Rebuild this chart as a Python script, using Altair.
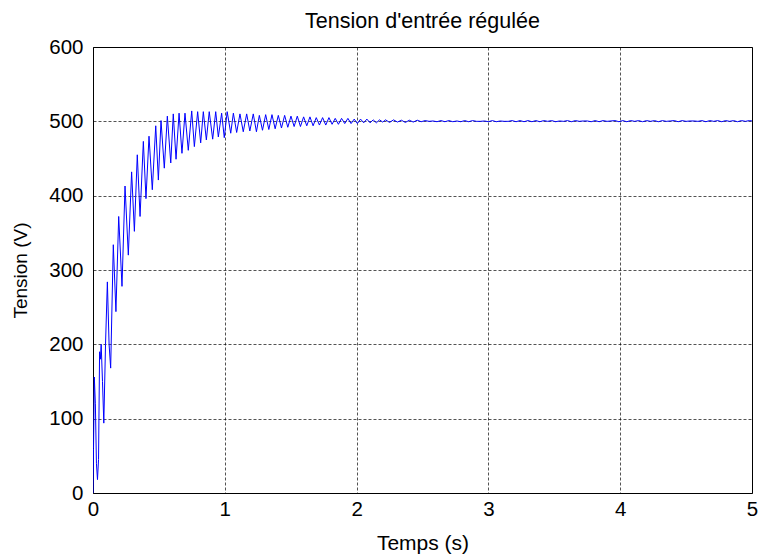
import altair as alt
import pandas as pd

# Transient: time in s, voltage in V
t_transient = [0.000, 0.004, 0.010, 0.018, 0.026, 0.034, 0.042, 0.050, 0.056, 0.062,
               0.072, 0.082, 0.095, 0.109, 0.122, 0.134, 0.154, 0.174, 0.195, 0.220,
               0.243, 0.268, 0.293, 0.314, 0.336, 0.357, 0.382, 0.402, 0.425, 0.450,
               0.476, 0.496, 0.516, 0.541, 0.564, 0.590, 0.609, 0.630, 0.653, 0.675,
               0.698, 0.723, 0.749, 0.769, 0.794, 0.817, 0.837, 0.860, 0.882, 0.908,
               0.931, 0.951, 0.976, 0.996, 1.018, 1.045, 1.065, 1.090, 1.115, 1.140,
               1.166, 1.190, 1.216, 1.240, 1.262]
v_transient = [0, 60, 156, 120, 40, 18, 45, 190, 180, 200,
               150, 94, 200, 284, 200, 168, 334, 244, 372, 278,
               413, 320, 432, 352, 455, 372, 473, 396, 480, 408,
               494, 421, 501, 437, 507, 444, 510, 449, 511, 457,
               511, 461, 514, 466, 513, 471, 513, 475, 513, 476,
               513, 479, 511, 478, 513, 484, 511, 485, 510, 486,
               510, 487, 510, 486, 508]

# Damping oscillation
t_damp = [1.286, 1.310, 1.334, 1.358, 1.382, 1.406, 1.430, 1.454, 1.478, 1.502,
          1.526, 1.550, 1.574, 1.598, 1.622, 1.646, 1.670, 1.694, 1.718, 1.742,
          1.766, 1.790, 1.814, 1.838, 1.862, 1.886, 1.910, 1.934, 1.958, 1.982,
          2.006, 2.030, 2.054, 2.078, 2.102, 2.126, 2.150, 2.174, 2.198]
v_damp = [488, 509, 489, 509, 490, 508, 491, 508, 492, 507,
          493, 507, 493, 506, 494, 506, 494, 505, 495, 505,
          495, 505, 496, 504, 496, 504, 497, 504, 497, 503,
          497, 503, 498, 503, 498, 502, 498, 502, 499]

# Steady-state ripple
t_tail = [2.22, 2.25, 2.28, 2.31, 2.34, 2.37, 2.40, 2.43, 2.46, 2.49,
          2.52, 2.55, 2.58, 2.61, 2.64, 2.67, 2.70, 2.73, 2.76, 2.79,
          2.82, 2.85, 2.88, 2.91, 2.94, 2.97, 3.00, 3.03, 3.06, 3.09,
          3.12, 3.15, 3.18, 3.21, 3.24, 3.27, 3.30, 3.33, 3.36, 3.39,
          3.42, 3.45, 3.48, 3.51, 3.54, 3.57, 3.60, 3.63, 3.66, 3.69,
          3.72, 3.75, 3.78, 3.81, 3.84, 3.87, 3.90, 3.93, 3.96, 3.99,
          4.02, 4.05, 4.08, 4.11, 4.14, 4.17, 4.20, 4.23, 4.26, 4.29,
          4.32, 4.35, 4.38, 4.41, 4.44, 4.47, 4.50, 4.53, 4.56, 4.59,
          4.62, 4.65, 4.68, 4.71, 4.74, 4.77, 4.80, 4.83, 4.86, 4.89,
          4.92, 4.95, 4.98, 5.00]
v_tail = [502, 498.5, 502, 499, 501.5, 498.5, 501.5, 499, 501.5, 499.5,
          501, 500, 500.5, 499.5, 501, 499.5, 501, 499.5, 500.5, 499.5,
          501, 499.5, 501, 500, 500, 500.5, 499.5, 501, 499.5, 500.5,
          500, 500, 501, 499.5, 501, 499.5, 501, 499.5, 501, 499.5,
          501, 500, 501, 499.5, 500.5, 500, 501, 499.5, 501, 500,
          500.5, 500.5, 499.5, 501, 499.5, 501, 500, 500.5, 501, 499.5,
          501, 499.5, 501, 500, 501, 499.5, 501, 500, 501, 499.5,
          501, 500, 500.5, 501, 499.5, 501, 500, 500.5, 500.5, 500,
          501, 499.5, 501, 500, 501, 499.5, 501, 500, 501, 499.5,
          501, 500, 501, 500.5]

x_ticks = [0, 1, 2, 3, 4, 5]
y_ticks = [0, 100, 200, 300, 400, 500, 600]

df = pd.DataFrame({
    "t": t_transient + t_damp + t_tail,
    "v": v_transient + v_damp + v_tail,
})

FONT = "Liberation Sans"

chart = alt.Chart(df).mark_line(color="#0000ff", strokeWidth=1, clip=True).encode(
    x=alt.X("t:Q", scale=alt.Scale(domain=[0, 5], nice=False),
            axis=alt.Axis(values=x_ticks, format="d", title="Temps (s)",
                          grid=True, ticks=False, tickSize=0, labelPadding=6,
                          titlePadding=13, titleFontSize=21, domain=False)),
    y=alt.Y("v:Q", scale=alt.Scale(domain=[0, 600], nice=False),
            axis=alt.Axis(values=y_ticks, format="d", title="Tension (V)",
                          grid=True, ticks=False, tickSize=0, labelPadding=10,
                          titlePadding=18, titleFontSize=19, domain=False)),
    order="t:Q",
).properties(
    width=659, height=446,
    title=alt.TitleParams("Tension d'entrée régulée", fontSize=21.5, font=FONT,
                          fontWeight="normal", color="black", offset=5, anchor="middle"),
    padding={"left": 93, "top": 47, "right": 9, "bottom": 65},
    autosize=alt.AutoSizeParams(type="none"),
).configure(
    background="white"
).configure_view(
    stroke="black", strokeWidth=1, fill="white"
).configure_axis(
    labelFont=FONT, titleFont=FONT, labelFontSize=20.5,
    labelColor="black", titleColor="black", titleFontWeight="normal",
    gridColor="black", gridDash=[3, 2], gridWidth=0.8, gridOpacity=0.85,
    labelFlush=False,
)

chart.save("out.html", embed_options={"renderer": "svg", "actions": False})
